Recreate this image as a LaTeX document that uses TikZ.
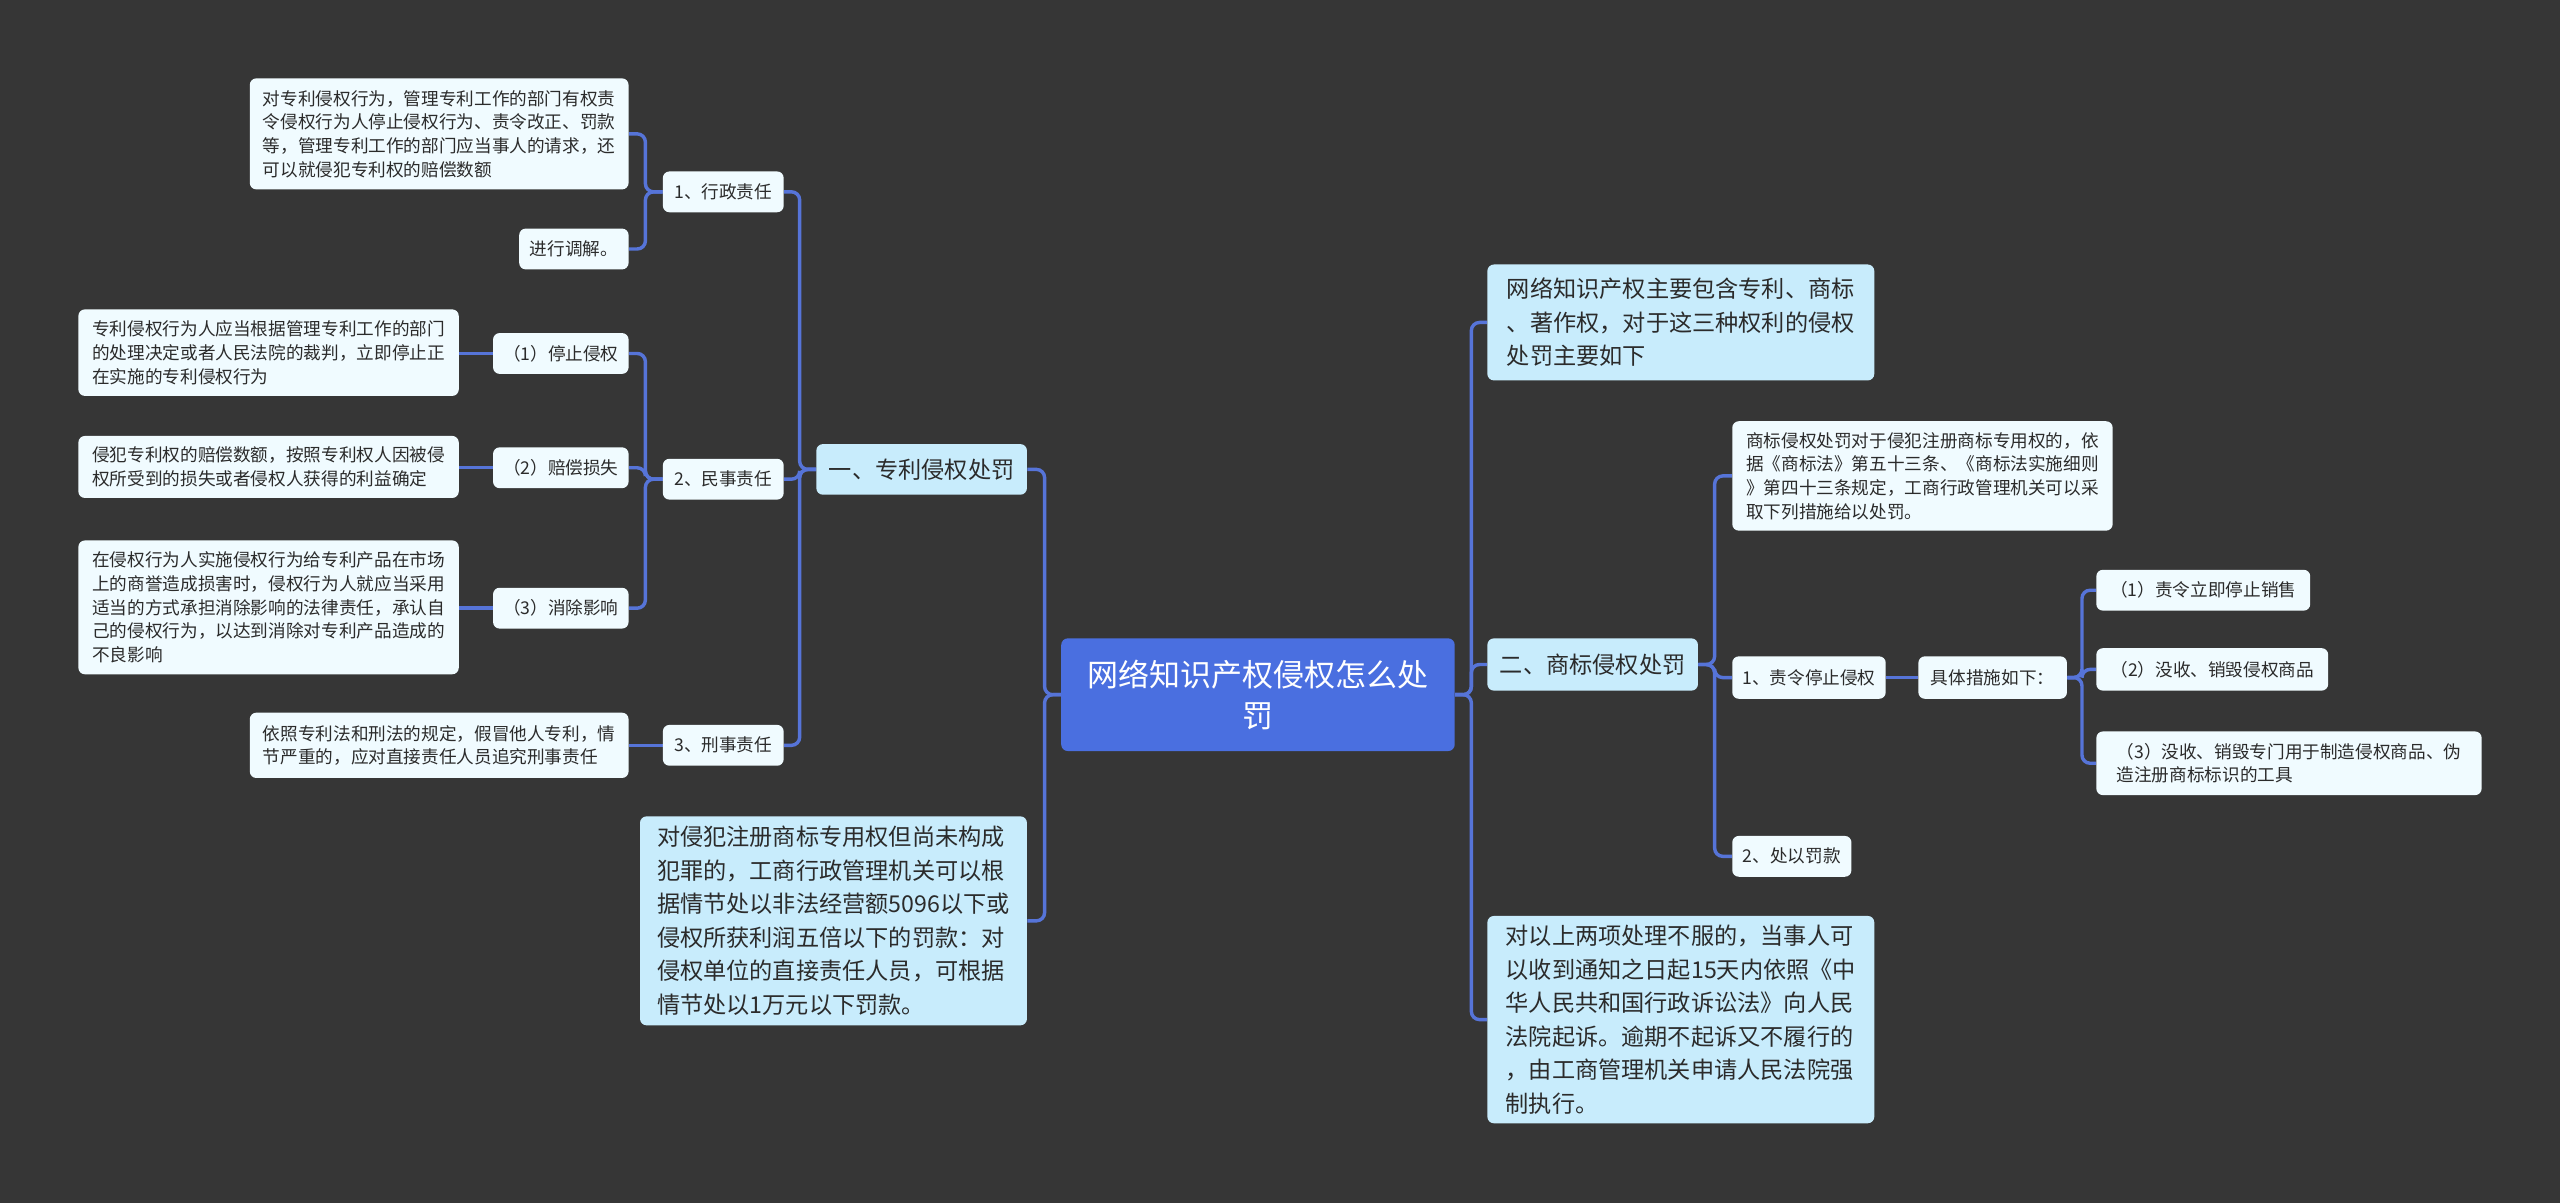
\documentclass[tikz,border=0pt]{standalone}
\usepackage{fontspec}
\setmainfont{Noto Sans CJK SC}
\usetikzlibrary{calc}
\definecolor{bgc}{HTML}{363636}
\definecolor{lk}{HTML}{5674D8}
\definecolor{cen}{HTML}{4A6FE0}
\definecolor{mid}{HTML}{C8ECFC}
\definecolor{sml}{HTML}{F0FBFF}
\definecolor{txt}{HTML}{2B2B2B}
\pgfdeclarelayer{bgl}
\pgfdeclarelayer{lines}
\pgfsetlayers{bgl,lines,main}
\tikzset{
  base/.style={rounded corners=4pt, inner xsep=6pt, inner ysep=3pt, text=txt, anchor=center, align=left},
  sbox/.style={base, fill=sml, font=\fontsize{10.8}{14.5}\selectfont},
  sone/.style={base, fill=sml, font=\fontsize{10.8}{14.5}\selectfont, align=center},
  mbox/.style={base, fill=mid, font=\fontsize{14.2}{20.5}\selectfont},
  mone/.style={base, fill=mid, font=\fontsize{14.2}{20.5}\selectfont, align=center},
  cbox/.style={base, fill=cen, text=white, font=\fontsize{19}{25}\selectfont, align=center},
  conn/.style={draw=lk, line width=2.1pt, rounded corners=5pt}
}
\begin{document}
\begin{tikzpicture}[x=1pt,y=-1pt]
\begin{pgfonlayer}{bgl}
\fill[bgc] (0,0) rectangle (1568,737);
\end{pgfonlayer}
\useasboundingbox (0,0) rectangle (1568,737);

% central
\node[cbox, minimum width=241pt, minimum height=69pt] (C) at (770.5,425.5) {网络知识产权侵权怎么处\\罚};

% left side
\node[mone, minimum width=129pt, minimum height=31pt] (L1) at (564.5,287.5) {一、专利侵权处罚};
\node[mbox, minimum width=237pt, minimum height=128pt] (D) at (510.5,564) {对侵犯注册商标专用权但尚未构成\\犯罪的，工商行政管理机关可以根\\据情节处以非法经营额5096以下或\\侵权所获利润五倍以下的罚款：对\\侵权单位的直接责任人员，可根据\\情节处以1万元以下罚款。};

\node[sone, minimum width=74pt, minimum height=25pt] (X1) at (443,117.5) {1、行政责任};
\node[sone, minimum width=74pt, minimum height=25pt] (X2) at (443,293.5) {2、民事责任};
\node[sone, minimum width=74pt, minimum height=25pt] (X3) at (443,456.5) {3、刑事责任};

\node[sbox, minimum width=232pt, minimum height=68pt] (A1) at (269,82) {对专利侵权行为，管理专利工作的部门有权责\\令侵权行为人停止侵权行为、责令改正、罚款\\等，管理专利工作的部门应当事人的请求，还\\可以就侵犯专利权的赔偿数额};
\node[sone, minimum width=67pt, minimum height=25pt] (A2) at (351.5,152.5) {进行调解。};

\node[sone, minimum width=83pt, minimum height=25pt] (P1) at (343.5,216.5) {（1）停止侵权};
\node[sone, minimum width=83pt, minimum height=25pt] (P2) at (343.5,286.5) {（2）赔偿损失};
\node[sone, minimum width=83pt, minimum height=25pt] (P3) at (343.5,372.5) {（3）消除影响};

\node[sbox, minimum width=233pt, minimum height=53pt] (B1) at (164.5,216) {专利侵权行为人应当根据管理专利工作的部门\\的处理决定或者人民法院的裁判，立即停止正\\在实施的专利侵权行为};
\node[sbox, minimum width=233pt, minimum height=38pt] (B2) at (164.5,286) {侵犯专利权的赔偿数额，按照专利权人因被侵\\权所受到的损失或者侵权人获得的利益确定};
\node[sbox, minimum width=233pt, minimum height=82pt] (B3) at (164.5,372) {在侵权行为人实施侵权行为给专利产品在市场\\上的商誉造成损害时，侵权行为人就应当采用\\适当的方式承担消除影响的法律责任，承认自\\己的侵权行为，以达到消除对专利产品造成的\\不良影响};

\node[sbox, minimum width=232pt, minimum height=40pt] (C1) at (269,456.5) {依照专利法和刑法的规定，假冒他人专利，情\\节严重的，应对直接责任人员追究刑事责任};

% right side
\node[mbox, minimum width=237pt, minimum height=71pt] (R1) at (1029.5,197.5) {网络知识产权主要包含专利、商标\\、著作权，对于这三种权利的侵权\\处罚主要如下};
\node[mone, minimum width=129pt, minimum height=32pt] (R2) at (975.5,407) {二、商标侵权处罚};
\node[mbox, minimum width=237pt, minimum height=127pt] (R3) at (1029.5,624.5) {对以上两项处理不服的，当事人可\\以收到通知之日起15天内依照《中\\华人民共和国行政诉讼法》向人民\\法院起诉。逾期不起诉又不履行的\\，由工商管理机关申请人民法院强\\制执行。};

\node[sbox, minimum width=233pt, minimum height=67pt] (T1) at (1177.5,291.5) {商标侵权处罚对于侵犯注册商标专用权的，依\\据《商标法》第五十三条、《商标法实施细则\\》第四十三条规定，工商行政管理机关可以采\\取下列措施给以处罚。};
\node[sone, minimum width=94pt, minimum height=26pt] (S1) at (1108,415) {1、责令停止侵权};
\node[sone, minimum width=91pt, minimum height=26pt] (S2) at (1220.5,415) {具体措施如下：};
\node[sone, minimum width=73pt, minimum height=25pt] (S3) at (1097.5,524.5) {2、处以罚款};

\node[sone, minimum width=131pt, minimum height=25pt] (M1) at (1349.5,361.5) {（1）责令立即停止销售};
\node[sone, minimum width=142pt, minimum height=26pt] (M2) at (1355,410) {（2）没收、销毁侵权商品};
\node[sbox, minimum width=236pt, minimum height=39pt] (M3) at (1402,467.5) {（3）没收、销毁专门用于制造侵权商品、伪\\造注册商标标识的工具};

% connectors
\begin{pgfonlayer}{lines}
\draw[conn] (C.west) -- ++(-10,0) |- (L1.east);
\draw[conn] (C.west) -- ++(-10,0) |- (D.east);
\draw[conn] (C.east) -- ++(10,0) |- (R1.west);
\draw[conn] (C.east) -- ++(10,0) |- (R2.west);
\draw[conn] (C.east) -- ++(10,0) |- (R3.west);

\draw[conn] (L1.west) -- ++(-10,0) |- (X1.east);
\draw[conn] (L1.west) -- ++(-10,0) |- (X2.east);
\draw[conn] (L1.west) -- ++(-10,0) |- (X3.east);

\draw[conn] (X1.west) -- ++(-10.5,0) |- (A1.east);
\draw[conn] (X1.west) -- ++(-10.5,0) |- (A2.east);
\draw[conn] (X2.west) -- ++(-10.5,0) |- (P1.east);
\draw[conn] (X2.west) -- ++(-10.5,0) |- (P2.east);
\draw[conn] (X2.west) -- ++(-10.5,0) |- (P3.east);
\draw[conn] (X3.west) -- (X3.west -| C1.east);
\draw[conn] (P1.west) -- (P1.west -| B1.east);
\draw[conn] (P2.west) -- (P2.west -| B2.east);
\draw[conn] (P3.west) -- (P3.west -| B3.east);

\draw[conn] (R2.east) -- ++(10,0) |- (T1.west);
\draw[conn] (R2.east) -- ++(10,0) |- (S1.west);
\draw[conn] (R2.east) -- ++(10,0) |- (S3.west);
\draw[conn] (S1.east) -- (S2.west);
\draw[conn] (S2.east) -- ++(9,0) |- (M1.west);
\draw[conn] (S2.east) -- ++(9,0) |- (M2.west);
\draw[conn] (S2.east) -- ++(9,0) |- (M3.west);
\end{pgfonlayer}
\end{tikzpicture}
\end{document}
